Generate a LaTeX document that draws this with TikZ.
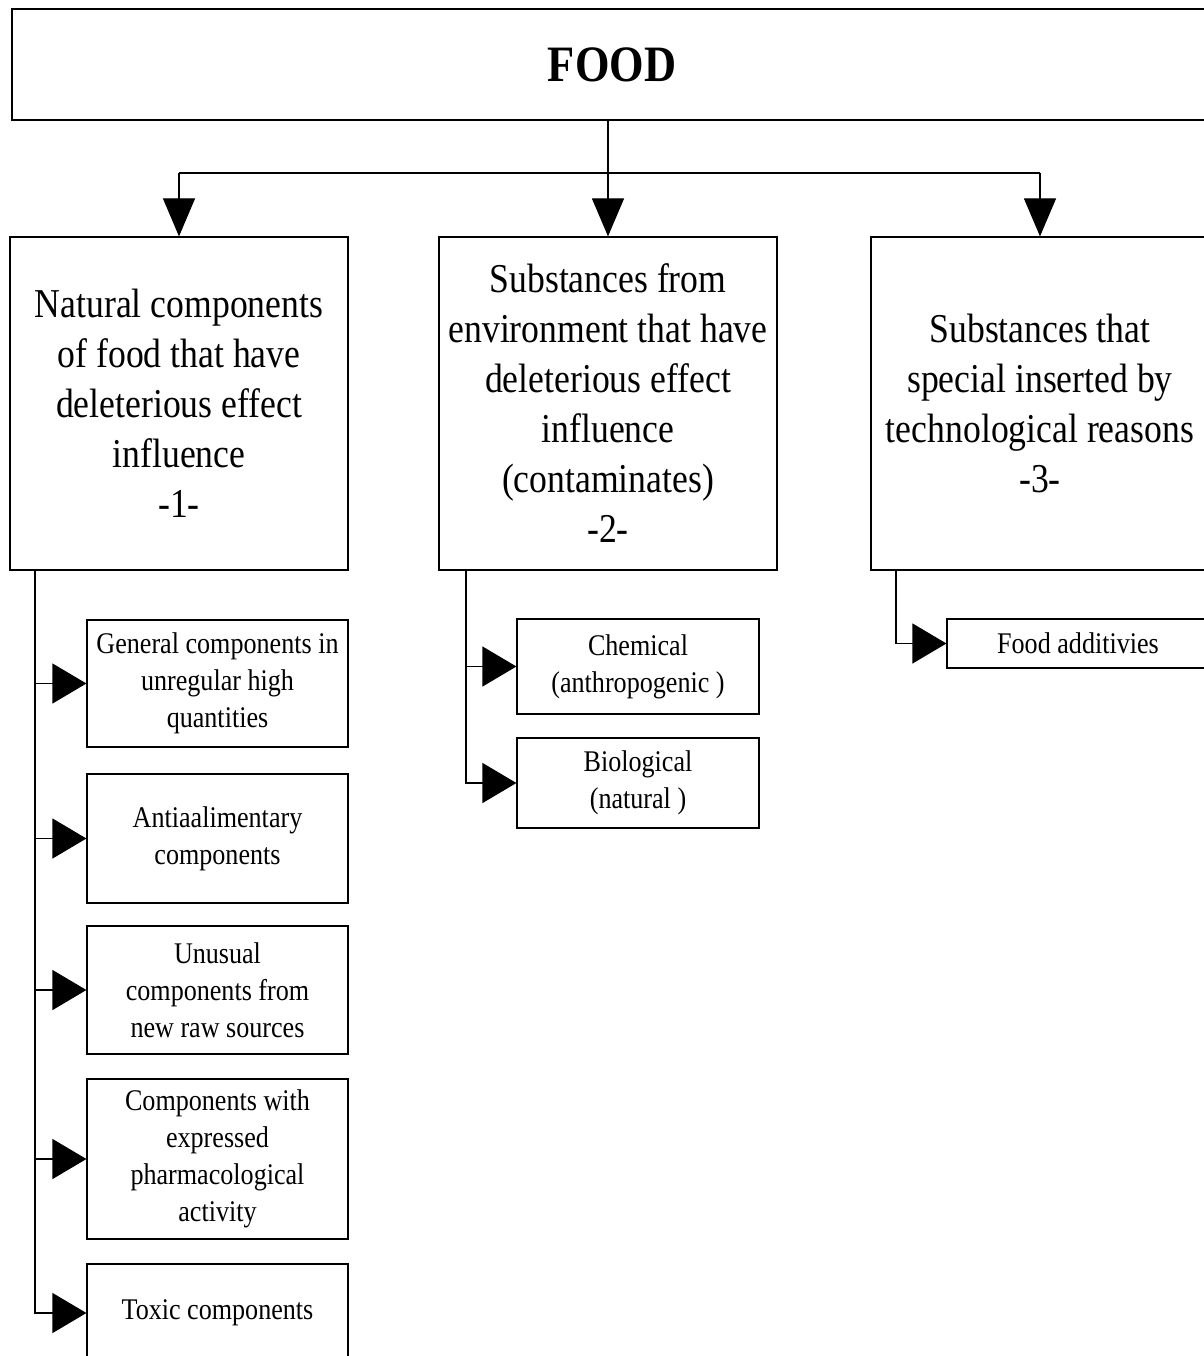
\documentclass[tikz,border=0pt]{standalone}
\usepackage{fontspec}
\setmainfont{Liberation Serif}[FakeStretch=0.87]
\usetikzlibrary{arrows.meta}

\begin{document}
\begin{tikzpicture}[
  x=1pt, y=-1pt, line width=1.2pt,
  mainbox/.style={draw, minimum width=338pt, minimum height=333pt, inner sep=0pt,
                  align=center, font=\fontsize{41}{50}\selectfont},
  subbox/.style={draw, minimum width=261pt, inner sep=0pt,
                 align=center, font=\fontsize{30}{37}\selectfont},
  downarr/.style={-{Triangle[length=38pt, width=32pt]}},
  sidearr/.style={-{Triangle[length=34pt, width=40pt]}}
]
  \useasboundingbox (0,0) rectangle (1203,1356);

  \node[draw, minimum width=1200pt, minimum height=111pt,
        font=\fontsize{51}{60}\selectfont\bfseries] (food) at (612,64.5) {FOOD};

  % the three groups
  \node[mainbox] (natural) at (179,403.5) {
    Natural components\\of food that have\\deleterious effect\\influence\\-1-};
  \node[mainbox] (environ) at (608,403.5) {
    Substances from\\environment that have\\deleterious effect\\influence\\(contaminates)\\-2-};
  \node[mainbox] (techno) at (1040,403.5) {
    Substances that\\special inserted by\\technological reasons\\-3-};

  \coordinate (bus) at (0,173);
  \draw[downarr] (food.south -| environ.north) -- (environ.north);
  \draw (natural.north |- bus) -- (techno.north |- bus);
  \draw[downarr] (natural.north |- bus) -- (natural.north);
  \draw[downarr] (techno.north |- bus) -- (techno.north);

  % group 1
  \node[subbox, minimum height=127pt] (general) at (217.5,683.5) {
    General components in\\unregular high\\quantities};
  \node[subbox, minimum height=129pt] (antialim) at (217.5,838.5) {
    Antiaalimentary\\components};
  \node[subbox, minimum height=128pt] (unusual) at (217.5,990) {
    Unusual\\components from\\new raw sources};
  \node[subbox, minimum height=160pt] (pharma) at (217.5,1159) {
    Components with\\expressed\\pharmacological\\activity};
  \node[subbox, minimum height=98pt] (toxic) at (217.5,1313) {Toxic components};

  % group 2
  \node[subbox, minimum width=242pt, minimum height=95pt] (chemical) at (638,666.5) {
    Chemical\\(anthropogenic )};
  \node[subbox, minimum width=242pt, minimum height=90pt] (biological) at (638,783) {
    Biological\\(natural )};

  % group 3
  \node[subbox, minimum width=262pt, minimum height=49pt] (additives) at (1078,643.5) {
    Food additivies};

  \coordinate (natbus) at (35,0);
  \coordinate (envbus) at (466,0);
  \coordinate (techbus) at (896,0);

  \foreach \s in {general,antialim,unusual,pharma,toxic}
    \draw[sidearr] (natural.south -| natbus) |- (\s.west);
  \foreach \s in {chemical,biological}
    \draw[sidearr] (environ.south -| envbus) |- (\s.west);
  \draw[sidearr] (techno.south -| techbus) |- (additives.west);
\end{tikzpicture}
\end{document}
